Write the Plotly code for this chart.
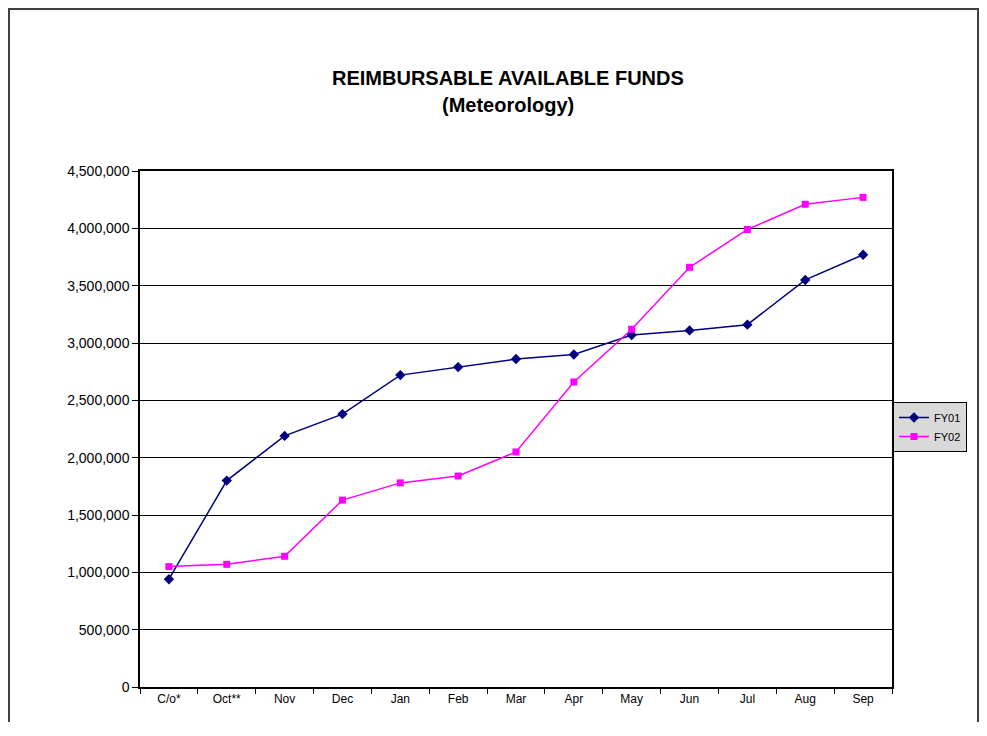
import plotly.graph_objects as go

months = ["C/o*", "Oct**", "Nov", "Dec", "Jan", "Feb", "Mar", "Apr", "May", "Jun", "Jul", "Aug", "Sep"]
fy01 = [940000, 1800000, 2190000, 2380000, 2720000, 2790000, 2860000, 2900000, 3070000, 3110000, 3160000, 3550000, 3770000]
fy02 = [1050000, 1070000, 1140000, 1630000, 1780000, 1840000, 2050000, 2660000, 3120000, 3660000, 3990000, 4210000, 4270000]
y_ticks = [0, 500000, 1000000, 1500000, 2000000, 2500000, 3000000, 3500000, 4000000, 4500000]

font_family = "Liberation Sans, Arial, sans-serif"

# page body has an 8px default margin; figure placed at (8, 8)
OFF = 8
PL, PR, PT, PB = 140, 892, 171, 687  # plot area in page pixels
W, H = 971, 714
pw, ph = PR - PL, PB - PT


def px_x(x):
    return (x - PL) / pw


def px_y(y):
    return (PB - y) / ph


fig = go.Figure()
fig.add_trace(go.Scatter(
    x=months, y=fy01, name="FY01", mode="lines+markers",
    line=dict(color="#000080", width=1.5),
    marker=dict(symbol="diamond", size=8, color="#000080"),
))
fig.add_trace(go.Scatter(
    x=months, y=fy02, name="FY02", mode="lines+markers",
    line=dict(color="#FF00FF", width=1.5),
    marker=dict(symbol="square", size=7, color="#FF00FF"),
))

fig.update_layout(
    width=W, height=H,
    margin=dict(l=PL - OFF, r=W + OFF - PR, t=PT - OFF, b=H + OFF - PB),
    paper_bgcolor="white", plot_bgcolor="white",
    font=dict(family=font_family, color="black", size=12),
    showlegend=True,
    legend=dict(
        x=px_x(893), xanchor="left", y=px_y(427), yanchor="middle",
        bgcolor="#d9d9d9", bordercolor="black", borderwidth=1,
        font=dict(size=11, family=font_family),
        itemwidth=30, tracegroupgap=0,
    ),
    annotations=[
        dict(text="<b>REIMBURSABLE AVAILABLE FUNDS</b>", xref="paper", yref="paper",
             x=px_x(508), y=px_y(78), xanchor="center", yanchor="middle",
             showarrow=False, font=dict(size=20, family=font_family)),
        dict(text="<b>(Meteorology)</b>", xref="paper", yref="paper",
             x=px_x(508), y=px_y(105), xanchor="center", yanchor="middle",
             showarrow=False, font=dict(size=20, family=font_family)),
    ],
    shapes=[
        dict(type="rect", xref="paper", yref="paper",
             x0=px_x(9), x1=px_x(W + OFF - 1),
             y0=px_y(745), y1=px_y(9),
             line=dict(color="#404040", width=2), fillcolor="rgba(0,0,0,0)", layer="below"),
    ],
)

fig.update_xaxes(
    type="category", showgrid=False, showline=True, linecolor="black", linewidth=1.5,
    mirror=True, ticks="outside", tickson="boundaries", ticklen=5, tickcolor="black",
    tickfont=dict(size=12), range=[-0.5, 12.5],
)
fig.update_yaxes(
    range=[0, 4500000], tickvals=y_ticks, tickformat=",", showgrid=True,
    gridcolor="black", gridwidth=1, showline=True, linecolor="black", linewidth=1.5,
    mirror=True, ticks="outside", ticklen=6, tickcolor="black", zeroline=False,
    tickfont=dict(size=14),
)

fig.write_html("out.html")
